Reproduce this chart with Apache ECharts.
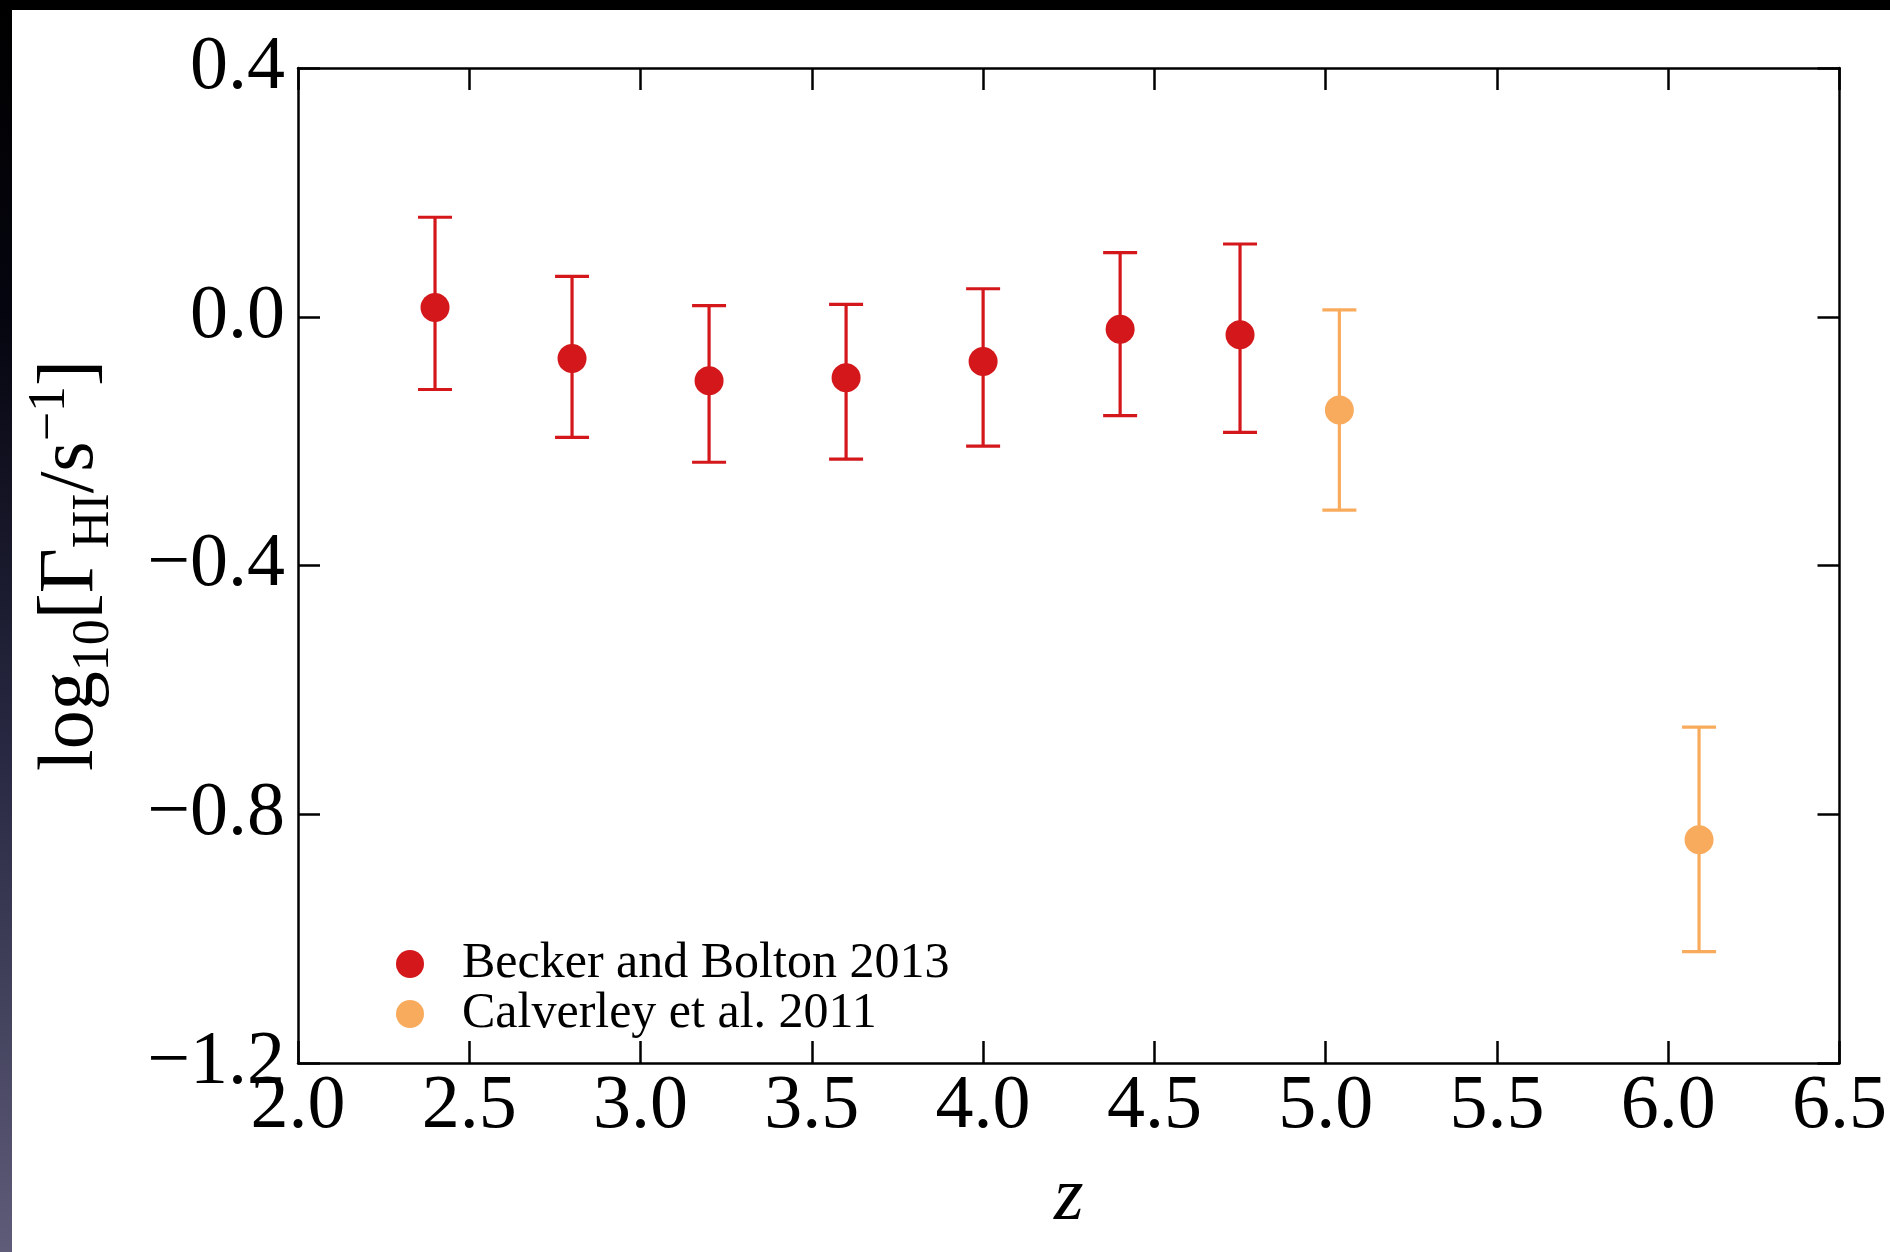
<!DOCTYPE html>
<html><head><meta charset="utf-8">
<script src="https://cdn.jsdelivr.net/npm/echarts@6/dist/echarts.min.js"></script>
<style>html,body{margin:0;padding:0;background:#fff;}#c{width:1890px;height:1252px;}</style>
</head><body><div id="c"></div>
<script>
// Becker and Bolton 2013
const beckerZ = [2.4, 2.8, 3.2, 3.6, 4.0, 4.4, 4.75];
const beckerY = [0.015, -0.067, -0.103, -0.098, -0.072, -0.020, -0.029];
const beckerHi = [0.160, 0.065, 0.018, 0.020, 0.045, 0.103, 0.117];
const beckerLo = [-0.117, -0.194, -0.234, -0.229, -0.208, -0.159, -0.186];
// Calverley et al. 2011
const calvZ = [5.04, 6.09];
const calvY = [-0.150, -0.841];
const calvHi = [0.011, -0.660];
const calvLo = [-0.311, -1.021];

const xTicks = {min: 2.0, max: 6.5, step: 0.5};
const yTicks = {min: -1.2, max: 0.4, step: 0.4};

const RED = '#d3171b', ORANGE = '#f9ab5d';
const SERIF = '"Liberation Serif", "DejaVu Serif", serif';
const fmt = v => { const s = Number(v).toFixed(1); return s.replace('-', '\u2212'); };

function errSeries(name, z, lo, hi, color) {
  return {
    type: 'custom', name: name, silent: true, z: 1,
    data: z.map((v, i) => [v, lo[i], hi[i]]),
    encode: {x: 0, y: [1, 2]},
    renderItem: function (params, api) {
      const x = api.value(0);
      const a = api.coord([x, api.value(1)]);
      const b = api.coord([x, api.value(2)]);
      const hw = 17;
      const st = {stroke: color, lineWidth: 3.2};
      return {type: 'group', children: [
        {type: 'line', shape: {x1: a[0], y1: a[1], x2: b[0], y2: b[1]}, style: st},
        {type: 'line', shape: {x1: a[0] - hw, y1: a[1], x2: a[0] + hw, y2: a[1]}, style: st},
        {type: 'line', shape: {x1: b[0] - hw, y1: b[1], x2: b[0] + hw, y2: b[1]}, style: st}
      ]};
    }
  };
}

const axisLine = {show: true, onZero: false, lineStyle: {color: '#000', width: 2.5}};
const tick = {show: true, inside: true, length: 22, lineStyle: {color: '#000', width: 2.5}};

const chart = echarts.init(document.getElementById('c'), null, {renderer: 'canvas'});
chart.setOption({
  backgroundColor: '#fff',
  animation: false,
  graphic: [
    {type: 'rect', shape: {x: 0, y: 0, width: 1890, height: 10}, style: {fill: '#000'}, z: 100},
    {type: 'rect', shape: {x: 0, y: 0, width: 12, height: 1252}, z: 100,
     style: {fill: {type: 'linear', x: 0, y: 0, x2: 0, y2: 1, colorStops: [
       {offset: 0, color: '#000000'}, {offset: 0.25, color: '#05050f'},
       {offset: 0.6, color: '#282842'}, {offset: 1, color: '#5e5c78'}]}}}
  ],
  grid: {left: 298, top: 68, right: 48, bottom: 189, containLabel: false},
  legend: {
    orient: 'vertical', left: 391, top: 934, itemGap: 0,
    itemWidth: 28, itemHeight: 28, icon: 'circle',
    data: ['Becker and Bolton 2013', 'Calverley et al. 2011'],
    textStyle: {fontFamily: SERIF, fontSize: 50, color: '#000', lineHeight: 49, padding: [0, 0, 0, 33]}
  },
  xAxis: [
    {type: 'value', position: 'bottom', min: xTicks.min, max: xTicks.max, interval: xTicks.step,
     axisLine: axisLine, axisTick: tick, splitLine: {show: false},
     axisLabel: {formatter: fmt, fontFamily: SERIF, fontSize: 76, color: '#000', margin: 6},
     name: 'z', nameLocation: 'middle', nameGap: 98,
     nameTextStyle: {fontFamily: SERIF, fontStyle: 'italic', fontSize: 76, color: '#000'}},
    {type: 'value', position: 'top', min: xTicks.min, max: xTicks.max, interval: xTicks.step,
     axisLine: axisLine, axisTick: tick, splitLine: {show: false}, axisLabel: {show: false}}
  ],
  yAxis: [
    {type: 'value', position: 'left', min: yTicks.min, max: yTicks.max, interval: yTicks.step,
     axisLine: axisLine, axisTick: tick, splitLine: {show: false},
     axisLabel: {formatter: fmt, fontFamily: SERIF, fontSize: 76, color: '#000', margin: 13},
     name: '{a|log}{sub|10}{a|[\u0393}{sub|HI}{a|/s}{sup|\u22121}{a|]}',
     nameLocation: 'middle', nameRotate: 90, nameGap: 178,
     nameTextStyle: {fontFamily: SERIF, fontSize: 78, color: '#000',
       rich: {
         a: {fontFamily: SERIF, fontSize: 78, color: '#000', lineHeight: 96},
         sub: {fontFamily: SERIF, fontSize: 52, color: '#000', lineHeight: 96, verticalAlign: 'bottom'},
         sup: {fontFamily: SERIF, fontSize: 52, color: '#000', lineHeight: 96, verticalAlign: 'top'}
       }}},
    {type: 'value', position: 'right', min: yTicks.min, max: yTicks.max, interval: yTicks.step,
     axisLine: axisLine, axisTick: tick, splitLine: {show: false}, axisLabel: {show: false}}
  ],
  series: [
    errSeries('beckerErr', beckerZ, beckerLo, beckerHi, RED),
    errSeries('calvErr', calvZ, calvLo, calvHi, ORANGE),
    {type: 'scatter', name: 'Becker and Bolton 2013', symbol: 'circle', symbolSize: 29, z: 3,
     itemStyle: {color: RED, opacity: 1}, data: beckerZ.map((v, i) => [v, beckerY[i]])},
    {type: 'scatter', name: 'Calverley et al. 2011', symbol: 'circle', symbolSize: 29, z: 3,
     itemStyle: {color: ORANGE, opacity: 1}, data: calvZ.map((v, i) => [v, calvY[i]])}
  ]
});
</script></body></html>
